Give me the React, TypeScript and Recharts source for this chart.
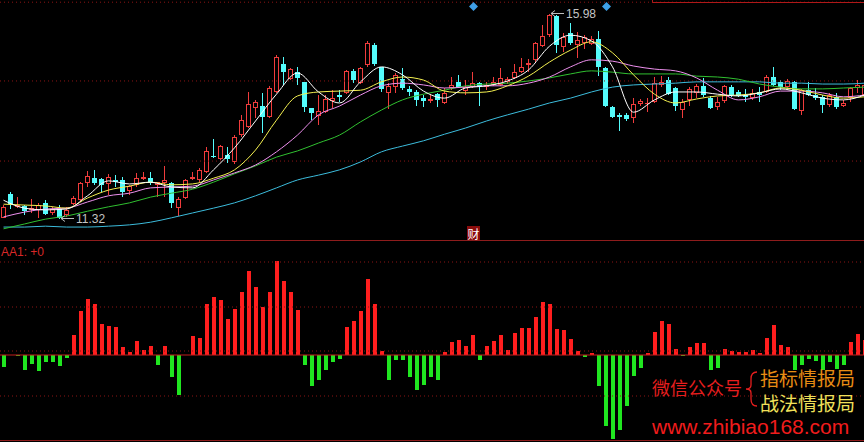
import React from "react";
import { ComposedChart, Bar, Line, XAxis, YAxis, ReferenceLine, ReferenceDot } from "recharts";

// daily bars, left to right
const open = [
  11.35, 11.89, 11.60, 11.62, 11.53, 11.53, 11.69, 11.46, 11.55, 11.41,
  11.66, 11.75, 12.14, 12.25, 12.23, 12.12, 12.21, 12.21, 11.96, 12.10,
  12.23, 12.25, 12.10, 12.14, 12.14, 11.57, 11.80, 12.23, 12.21, 12.39,
  12.75, 12.69, 12.78, 12.62, 13.23, 13.41, 13.85, 13.89, 13.64, 14.21,
  14.85, 14.50, 14.66, 14.44, 13.85, 13.66, 13.75, 14.00, 14.14, 14.19,
  14.69, 14.41, 14.82, 15.28, 14.78, 14.19, 14.32, 14.50, 14.28, 14.21,
  14.07, 14.00, 14.16, 13.96, 14.30, 14.44, 14.23, 14.32, 14.41, 14.32,
  14.37, 14.37, 14.44, 14.53, 14.66, 14.82, 14.94, 15.25, 15.50, 15.94,
  15.23, 15.55, 15.28, 15.32, 15.30, 15.41, 14.75, 13.87, 13.69, 13.69,
  13.62, 13.94, 13.94, 13.98, 14.37, 14.48, 14.30, 13.80, 14.03, 14.19,
  14.35, 14.07, 13.87, 14.00, 14.32, 14.21, 14.14, 14.07, 14.21, 14.21,
  14.55, 14.44, 14.32, 14.44, 13.78, 14.25, 14.14, 14.10, 13.91, 14.10,
  13.89, 14.07, 14.30, 14.14,
];
const close = [
  11.60, 11.66, 11.64, 11.51, 11.57, 11.64, 11.44, 11.55, 11.35, 11.53,
  11.80, 12.14, 12.30, 12.14, 12.10, 12.28, 12.16, 11.94, 12.07, 12.25,
  12.28, 12.14, 12.16, 12.21, 11.69, 11.78, 12.21, 12.28, 12.44, 12.87,
  12.73, 12.98, 12.69, 13.19, 13.57, 13.94, 13.98, 13.64, 14.30, 15.00,
  14.66, 14.73, 14.53, 13.87, 13.73, 13.78, 14.05, 14.07, 14.10, 14.69,
  14.48, 14.75, 15.32, 14.85, 14.28, 14.35, 14.60, 14.30, 14.21, 14.03,
  14.00, 14.05, 14.03, 14.19, 14.37, 14.32, 14.32, 14.41, 14.32, 14.37,
  14.44, 14.53, 14.50, 14.66, 14.78, 14.87, 15.32, 15.48, 15.96, 15.28,
  15.46, 15.32, 15.39, 15.46, 15.41, 14.78, 13.89, 13.64, 13.64, 13.60,
  13.94, 14.00, 13.96, 14.41, 14.44, 14.16, 13.89, 13.98, 14.28, 14.35,
  14.14, 13.85, 13.98, 14.35, 14.14, 14.12, 14.10, 14.19, 14.14, 14.55,
  14.37, 14.32, 14.46, 13.82, 14.25, 14.14, 14.07, 13.91, 14.14, 13.87,
  13.96, 14.30, 14.37, 14.37,
];
const high = [
  11.64, 11.93, 11.82, 11.64, 11.78, 11.69, 11.75, 11.60, 11.64, 11.60,
  11.84, 12.16, 12.41, 12.44, 12.25, 12.34, 12.32, 12.28, 12.10, 12.37,
  12.39, 12.39, 12.16, 12.53, 12.16, 11.82, 12.23, 12.39, 12.48, 12.96,
  13.14, 13.00, 12.96, 13.23, 13.69, 14.21, 14.03, 14.19, 14.35, 15.05,
  15.00, 14.75, 14.78, 14.44, 13.85, 14.14, 14.14, 14.25, 14.25, 14.71,
  14.73, 14.78, 15.37, 15.32, 14.78, 14.41, 14.64, 14.75, 14.35, 14.25,
  14.14, 14.14, 14.19, 14.30, 14.55, 14.60, 14.48, 14.66, 14.44, 14.44,
  14.55, 14.75, 14.55, 14.85, 14.98, 14.96, 15.35, 15.73, 15.98, 15.96,
  15.55, 15.78, 15.57, 15.50, 15.48, 15.60, 14.78, 13.89, 13.73, 13.73,
  14.07, 14.05, 14.07, 14.55, 14.57, 14.55, 14.32, 14.05, 14.32, 14.39,
  14.53, 14.12, 14.10, 14.37, 14.37, 14.25, 14.28, 14.28, 14.32, 14.60,
  14.78, 14.48, 14.50, 14.46, 14.28, 14.44, 14.30, 14.14, 14.19, 14.19,
  14.03, 14.32, 14.48, 14.41,
];
const low = [
  11.34, 11.55, 11.57, 11.41, 11.46, 11.35, 11.41, 11.41, 11.32, 11.37,
  11.64, 11.71, 12.05, 12.10, 11.94, 11.87, 12.05, 11.82, 11.87, 12.05,
  12.21, 12.10, 11.82, 11.82, 11.57, 11.39, 11.78, 12.21, 12.16, 12.37,
  12.71, 12.66, 12.60, 12.57, 13.19, 13.39, 13.62, 13.28, 13.62, 14.19,
  14.37, 14.48, 14.37, 13.75, 13.57, 13.46, 13.73, 13.85, 13.98, 14.16,
  14.41, 14.39, 14.78, 14.80, 14.21, 13.82, 14.19, 14.25, 14.12, 13.89,
  13.87, 13.96, 13.87, 13.94, 14.25, 14.30, 14.14, 14.30, 13.89, 14.25,
  14.35, 14.35, 14.39, 14.50, 14.64, 14.66, 14.87, 15.23, 15.46, 15.10,
  15.12, 15.28, 14.98, 15.19, 15.28, 14.57, 13.87, 13.62, 13.32, 13.55,
  13.50, 13.89, 13.75, 13.96, 14.32, 14.14, 13.78, 13.62, 13.89, 14.07,
  14.10, 13.82, 13.80, 13.96, 14.10, 14.10, 13.98, 14.03, 13.98, 14.19,
  14.35, 14.25, 14.25, 13.80, 13.69, 14.12, 14.03, 13.73, 13.87, 13.82,
  13.87, 13.98, 14.19, 14.10,
];

// moving averages
const maStep = 3;
const ma5 = [
  11.75, 11.57, 11.53, 11.55, 11.85, 12.19, 12.12, 12.16, 12.05, 12.03,
  12.44, 12.94, 13.55, 14.16, 14.64, 14.21, 13.96, 14.44, 14.78, 14.60,
  14.23, 14.07, 14.30, 14.35, 14.46, 14.71, 15.25, 15.50, 15.37, 14.78,
  13.75, 14.03, 14.21, 14.21, 14.16, 14.12, 14.19, 14.28, 14.19, 14.07,
  14.03, 14.14,
];
const ma10 = [
  11.66, 11.64, 11.62, 11.57, 11.80, 11.98, 12.07, 12.16, 12.10, 12.12,
  12.25, 12.44, 12.89, 13.57, 14.12, 14.21, 14.23, 14.25, 14.44, 14.55,
  14.48, 14.23, 14.19, 14.21, 14.35, 14.57, 14.89, 15.16, 15.35, 15.10,
  14.60, 14.16, 13.96, 14.05, 14.12, 14.14, 14.19, 14.30, 14.25, 14.14,
  14.07, 14.10,
];
const ma20 = [
  11.37, 11.48, 11.55, 11.57, 11.71, 11.85, 11.91, 12.03, 12.05, 12.07,
  12.21, 12.37, 12.55, 12.85, 13.23, 13.69, 13.89, 14.14, 14.35, 14.41,
  14.37, 14.30, 14.32, 14.35, 14.35, 14.41, 14.55, 14.78, 14.94, 14.91,
  14.80, 14.73, 14.69, 14.53, 14.25, 14.03, 14.10, 14.23, 14.23, 14.19,
  14.10, 14.14,
];
const ma30 = [
  11.10, 11.21, 11.32, 11.39, 11.50, 11.60, 11.69, 11.82, 11.91, 12.00,
  12.16, 12.35, 12.53, 12.73, 12.87, 13.05, 13.23, 13.53, 13.80, 14.03,
  14.16, 14.25, 14.35, 14.39, 14.41, 14.46, 14.53, 14.62, 14.69, 14.66,
  14.62, 14.62, 14.62, 14.57, 14.55, 14.50, 14.39, 14.32, 14.28, 14.28,
  14.30, 14.32,
];
const ma60 = [
  11.14, 11.14, 11.16, 11.14, 11.14, 11.16, 11.19, 11.25, 11.35, 11.46,
  11.57, 11.69, 11.85, 12.03, 12.21, 12.32, 12.44, 12.62, 12.85, 12.98,
  13.10, 13.25, 13.39, 13.55, 13.69, 13.82, 13.96, 14.07, 14.21, 14.32,
  14.37, 14.39, 14.41, 14.44, 14.44, 14.44, 14.44, 14.41, 14.41, 14.39,
  14.39, 14.41,
];

// AA1 indicator
const aa1 = [
  -12, 0, -1, -15, -9, -16, -7, -7, -11, -3,
  20, 44, 56, 51, 31, 29, 28, 8, 3, 14,
  5, 9, -10, 9, -22, -40, 0, 19, 17, 51,
  58, 55, 36, 46, 63, 84, 68, 48, 63, 94,
  74, 63, 45, -10, -31, -25, -15, -7, -4, 28,
  34, 44, 76, 51, 4, -25, -5, -5, -22, -35,
  -30, -22, -25, 3, 13, 15, 9, 20, -5, 9,
  14, 20, 5, 22, 27, 27, 38, 53, 51, 26,
  25, 16, 4, -2, 2, -31, -71, -84, -75, -51,
  -21, -13, 2, 23, 34, 31, 6, -1, 8, 12,
  12, -15, -13, 6, 4, 3, 3, 5, 2, 17,
  30, 10, 8, -15, -10, -4, -6, -15, -7, -14,
  -10, 13, 21, 15,
];

const priceGrid = [16.25, 14.46, 12.64];
const aaGrid = [93, 48, 4, -41];
const flagBars = [67, 86];
const newsBar = 67;
const hiBar = 78;
const loBar = 8;

const UP = "#f03c3c";
const DOWN = "#54fcfc";
const GRID = "#8c1414";

const pick = (arr: number[], i: number) => (i % maStep === 0 ? arr[i / maStep] : undefined);

const rows = open.map((o, i) => ({
  i,
  open: o,
  close: close[i],
  high: high[i],
  low: low[i],
  range: [low[i], high[i]],
  ma5: pick(ma5, i),
  ma10: pick(ma10, i),
  ma20: pick(ma20, i),
  ma30: pick(ma30, i),
  ma60: pick(ma60, i),
  aa: aa1[i],
}));

function Candle(p: any) {
  const { x, y, width, height, payload } = p;
  if (!payload) return null;
  const top = Math.min(y, y + height);
  const span = Math.abs(height);
  const k = payload.high > payload.low ? span / (payload.high - payload.low) : 0;
  const at = (v: number) => Math.round(top + (payload.high - v) * k);
  const cx = Math.floor(x + width / 2) + 0.5;
  const hi = at(payload.high);
  const lo = at(payload.low);
  const bTop = at(Math.max(payload.open, payload.close));
  const bBot = Math.max(bTop + 1, at(Math.min(payload.open, payload.close)));
  const left = Math.floor(x);
  if (payload.close >= payload.open) {
    if (bBot - bTop < 3) {
      return (
        <g>
          <line x1={cx} x2={cx} y1={hi} y2={lo} stroke={UP} />
          <rect x={left} y={bTop} width={width} height={bBot - bTop} fill={UP} />
        </g>
      );
    }
    return (
      <g>
        <line x1={cx} x2={cx} y1={hi} y2={bTop} stroke={UP} />
        <line x1={cx} x2={cx} y1={bBot} y2={lo} stroke={UP} />
        <rect x={left + 0.5} y={bTop + 0.5} width={width - 1} height={bBot - bTop - 1} fill="#000" stroke={UP} />
      </g>
    );
  }
  return (
    <g>
      <line x1={cx} x2={cx} y1={hi} y2={lo} stroke={DOWN} />
      <rect x={left} y={bTop} width={width} height={bBot - bTop} fill={DOWN} />
    </g>
  );
}

function AABar(p: any) {
  const { x, y, width, height, payload } = p;
  const h = Math.round(Math.abs(height));
  if (!payload || !h) return null;
  const top = Math.round(Math.min(y, y + height));
  return <rect x={Math.floor(x)} y={top} width={width} height={h} fill={payload.aa >= 0 ? "#ff1e1e" : "#20e620"} />;
}

function PriceTag({ cx, cy, text }: { cx: number; cy: number; text: string }) {
  const ax = Math.round(cx) + 1;
  const ay = Math.round(cy) - 0.5;
  return (
    <g>
      <line x1={ax} x2={ax + 13} y1={ay} y2={ay} stroke="#bdbdbd" />
      <polyline points={`${ax + 4},${ay - 3} ${ax},${ay} ${ax + 4},${ay + 3}`} fill="none" stroke="#bdbdbd" />
      <text x={ax + 15} y={ay} dominantBaseline="central" fontSize={12} fill="#c4c4c4" fontFamily="'Liberation Sans', Arial, sans-serif">
        {text}
      </text>
    </g>
  );
}

const lineProps = {
  strokeWidth: 1,
  dot: false,
  activeDot: false,
  type: "monotone" as const,
  connectNulls: true,
  isAnimationActive: false,
};

export default function App() {
  return (
    <div style={{ position: "relative", width: 864, height: 442, overflow: "hidden", background: "#000" }}>
      <style>{"body{margin:0;background:#000}"}</style>
      <div style={{ position: "absolute", left: 0, top: 0 }}>
        <ComposedChart width={868} height={241} data={rows} margin={{ top: 0, right: 0, bottom: 0, left: 0 }}>
          <XAxis dataKey="i" hide />
          <YAxis hide domain={[10.823, 16.3]} allowDataOverflow />
          {priceGrid.map((v) => (
            <ReferenceLine key={v} y={v} stroke={GRID} strokeDasharray="1 3" />
          ))}
          <Bar dataKey="range" barSize={5} activeBar={false} isAnimationActive={false} shape={(p: any) => <Candle {...p} />} />
          <Line dataKey="ma60" stroke="#3cbcdc" {...lineProps} />
          <Line dataKey="ma30" stroke="#30c030" {...lineProps} />
          <Line dataKey="ma20" stroke="#ee90ee" {...lineProps} />
          <Line dataKey="ma10" stroke="#f4f050" {...lineProps} />
          <Line dataKey="ma5" stroke="#ffffff" {...lineProps} />
          <ReferenceDot x={hiBar} y={high[hiBar]} r={0} shape={(p: any) => <PriceTag cx={p.cx} cy={p.cy} text={high[hiBar].toFixed(2)} />} />
          <ReferenceDot x={loBar} y={low[loBar]} r={0} shape={(p: any) => <PriceTag cx={p.cx} cy={p.cy} text={low[loBar].toFixed(2)} />} />
          {flagBars.map((b) => (
            <ReferenceDot
              key={b}
              x={b}
              y={16.16}
              r={0}
              shape={(p: any) => {
                const cx = Math.round(p.cx) + 0.5;
                const cy = Math.round(p.cy) + 0.5;
                return <polygon points={`${cx},${cy - 4.5} ${cx + 4.5},${cy} ${cx},${cy + 4.5} ${cx - 4.5},${cy}`} fill="#3e9fe6" />;
              }}
            />
          ))}
          <ReferenceDot
            x={newsBar}
            y={11.0}
            r={0}
            shape={(p: any) => {
              const cx = Math.round(p.cx);
              const cy = Math.round(p.cy);
              return (
                <g>
                  <rect x={cx - 6} y={cy - 7} width={13} height={14} fill="#8a0c0c" />
                  <text x={cx + 0.5} y={cy} textAnchor="middle" dominantBaseline="central" fontSize={12} fill="#fff" fontFamily="'Noto Sans CJK SC', sans-serif">
                    财
                  </text>
                </g>
              );
            }}
          />
        </ComposedChart>
      </div>
      <div style={{ position: "absolute", left: 0, top: 241 }}>
        <ComposedChart width={868} height={200} data={rows} margin={{ top: 0, right: 0, bottom: 0, left: 0 }}>
          <XAxis dataKey="i" hide />
          <YAxis hide domain={[-86, 114]} allowDataOverflow />
          {aaGrid.map((v) => (
            <ReferenceLine key={v} y={v} stroke={GRID} strokeDasharray="1 3" />
          ))}
          <Bar dataKey="aa" barSize={4} activeBar={false} isAnimationActive={false} shape={(p: any) => <AABar {...p} />} />
          <ReferenceLine y={0} stroke="#c41c1c" />
        </ComposedChart>
      </div>
      <svg width={864} height={442} style={{ position: "absolute", left: 0, top: 0, pointerEvents: "none" }}>
        <line x1={0} x2={864} y1={240.5} y2={240.5} stroke="#8e1c1c" />
        <line x1={0} x2={864} y1={440.5} y2={440.5} stroke="#8e1c1c" />
        <polyline points="652.5,0 652.5,2.5 864,2.5" fill="none" stroke="#b01818" />
        <text x={1} y={251.5} dominantBaseline="central" fontSize={12} fill="#d82828" fontFamily="'Liberation Sans', Arial, sans-serif">
          AA1: +0
        </text>
        <text x={652} y={387} dominantBaseline="central" fontSize={18} fill="#e61e1e" fontFamily="'Noto Sans CJK SC', sans-serif">
          微信公众号
        </text>
        <path d="M757,372 Q751,372 751,379 L751,385 Q751,389 746,389 Q751,389 751,393 L751,399 Q751,406 757,406" fill="none" stroke="#e61e1e" strokeWidth={1.3} />
        <text x={760} y={377} dominantBaseline="central" fontSize={19} fill="#e88c14" fontFamily="'Noto Sans CJK SC', sans-serif">
          指标情报局
        </text>
        <text x={760} y={402} dominantBaseline="central" fontSize={19} fill="#f0e05a" fontFamily="'Noto Sans CJK SC', sans-serif">
          战法情报局
        </text>
        <text x={652} y={426} dominantBaseline="central" fontSize={21} fill="#f01c1c" fontFamily="'Liberation Sans', Arial, sans-serif">
          www.zhibiao168.com
        </text>
      </svg>
    </div>
  );
}
